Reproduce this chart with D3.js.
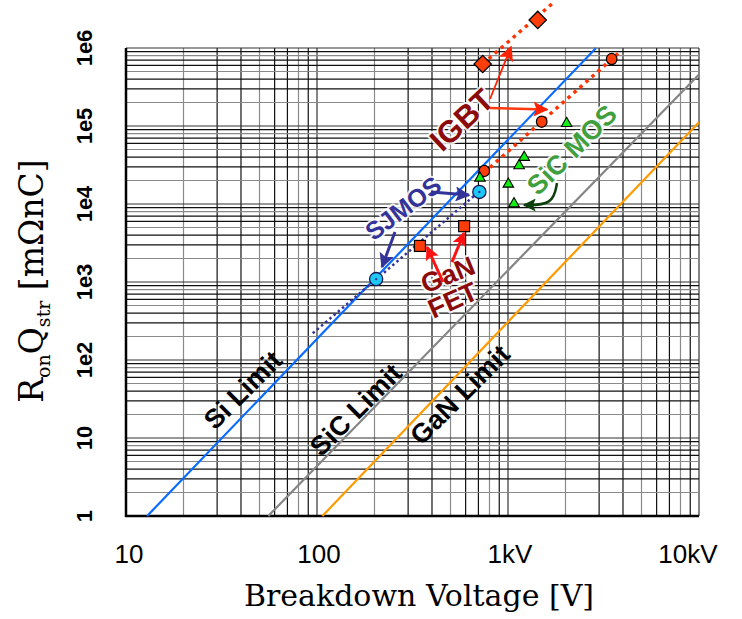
<!DOCTYPE html>
<html><head><meta charset="utf-8">
<script src="https://cdn.jsdelivr.net/npm/d3@7"></script>
<style>body{margin:0;background:#fff;} svg{display:block}</style>
</head><body><svg id="c" width="742" height="619"></svg>
<script>
// ---------- data ----------
const xTicks = [10, 100, 1000, 10000];
const xTickLabels = ["10", "100", "1kV", "10kV"];
const yTicks = [1, 10, 100, 1e3, 1e4, 1e5, 1e6];
const yTickLabels = ["1", "10", "1e2", "1e3", "1e4", "1e5", "1e6"];

const siLimit  = [[12.9, 1], [2890, 1e6]];
const sicLimit = [[55.6, 1], [10000, 4.57e5]];
const ganLimit = [[106.7, 1], [10000, 1.12e5]];

const igbtDiamonds     = [[737, 6.24e5], [1431, 2.29e6]];
const igbtDiamondTrend = [[737, 6.24e5], [1720, 3.78e6]];
const igbtCircles      = [[751, 2.65e4], [1501, 1.135e5], [3491, 7.22e5]];
const igbtCircleTrend  = [[697, 2.15e4], [3812, 8.7e5]];
const sjmos            = [[204, 1.09e3], [708, 1.43e4]];
const sjmosTrend       = [[95, 220], [720, 1.5e4]];
const ganFet           = [[346, 2.9e3], [589, 5.2e3]];
const sicMos           = [[713, 2.15e4], [1004, 1.8e4], [1075, 1.01e4], [1143, 3.1e4], [1216, 3.97e4], [2028, 1.08e5]];

// annotation arrows: [from, to]
const igbtArrows  = [[[805, 2.22e5], [1037, 1.03e6]], [[805, 1.70e5], [1600, 1.63e5]]];
const ganArrows   = [[[457, 1000], [377, 2.81e3]], [[509, 1.80e3], [588, 4.25e3]]];
const sjmosArrows = [[[256, 4.38e3], [219, 1.56e3]], [[395, 1.43e4], [625, 1.30e4]]];
const sicArrow    = [[1805, 1.86e4], [1720, 9.7e3], [1213, 9.7e3]];

// labels: [text, V, RQ]
const limitLabels = [["Si Limit", 41, 41], ["SiC Limit", 160, 22.9], ["GaN Limit", 561, 35.6]];

// ---------- chart ----------
const svg = d3.select("#c");
const x = d3.scaleLog().domain([10, 10000]).range([126, 699]);
const y = d3.scaleLog().domain([1, 1e6]).range([516, 48]);
const line = d3.line().x(d => x(d[0])).y(d => y(d[1]));

// grid
function minorVals(lo, hi) {
  const out = [];
  for (let d = lo; d < hi; d *= 10) for (let m = 1; m <= 9; m++) out.push([d * m, m]);
  out.push([hi, 1]);
  return out;
}
const gcol = m => (m === 1 ? "#333" : (m === 2 || m === 5 || m === 8) ? "#8a8a8a" : "#111");
const g = svg.append("g");
g.selectAll(".vx").data(minorVals(10, 10000)).enter().append("line")
  .attr("x1", d => x(d[0])).attr("x2", d => x(d[0])).attr("y1", y(1)).attr("y2", y(1e6))
  .attr("stroke", d => gcol(d[1])).attr("stroke-width", 1.2);
g.selectAll(".hy").data(minorVals(1, 1e6)).enter().append("line")
  .attr("y1", d => y(d[0])).attr("y2", d => y(d[0])).attr("x1", x(10)).attr("x2", x(10000))
  .attr("stroke", d => gcol(d[1])).attr("stroke-width", 1.2);

// frame
svg.append("line").attr("x1", x(10)).attr("x2", x(10)).attr("y1", y(1e6)).attr("y2", y(1) + 1)
  .attr("stroke", "#000").attr("stroke-width", 2.5);
svg.append("line").attr("x1", x(10) - 1).attr("x2", x(10000)).attr("y1", y(1)).attr("y2", y(1))
  .attr("stroke", "#000").attr("stroke-width", 2.5);

// limit lines
svg.append("path").attr("d", line(siLimit)).attr("stroke", "#0a6cff").attr("stroke-width", 2.2).attr("fill", "none");
svg.append("path").attr("d", line(sicLimit)).attr("stroke", "#858585").attr("stroke-width", 2.2).attr("fill", "none");
svg.append("path").attr("d", line(ganLimit)).attr("stroke", "#ff9a00").attr("stroke-width", 2.2).attr("fill", "none");

// trend lines
svg.append("path").attr("d", line(igbtDiamondTrend)).attr("stroke", "#ff3300").attr("stroke-width", 3.5)
  .attr("stroke-dasharray", "3.5,4.5").attr("fill", "none");
svg.append("path").attr("d", line(igbtCircleTrend)).attr("stroke", "#ff3300").attr("stroke-width", 3.5)
  .attr("stroke-dasharray", "3.5,4.5").attr("fill", "none");
svg.append("path").attr("d", line(sjmosTrend)).attr("stroke", "#333399").attr("stroke-width", 2.5)
  .attr("stroke-dasharray", "2.5,3").attr("fill", "none");

// markers
svg.selectAll(".dia").data(igbtDiamonds).enter().append("path")
  .attr("d", d3.symbol(d3.symbolSquare, 150)())
  .attr("transform", d => `translate(${x(d[0])},${y(d[1])}) rotate(45)`)
  .attr("fill", "#ff3d0a").attr("stroke", "#000").attr("stroke-width", 1.3);
svg.selectAll(".ic").data(igbtCircles).enter().append("ellipse")
  .attr("cx", d => x(d[0])).attr("cy", d => y(d[1])).attr("rx", 5.3).attr("ry", 5.6)
  .attr("fill", "#ff3d0a").attr("stroke", "#000").attr("stroke-width", 1.2);
svg.selectAll(".tri").data(sicMos).enter().append("path")
  .attr("d", d3.symbol(d3.symbolTriangle, 48)())
  .attr("transform", d => `translate(${x(d[0])},${y(d[1])})`)
  .attr("fill", "#11ee11").attr("stroke", "#000").attr("stroke-width", 1.1);
svg.selectAll(".sq").data(ganFet).enter().append("rect")
  .attr("x", d => x(d[0]) - 5.5).attr("y", d => y(d[1]) - 5.5).attr("width", 11).attr("height", 11)
  .attr("fill", "#ff3d0a").attr("stroke", "#000").attr("stroke-width", 1.2);
svg.selectAll(".sj").data(sjmos).enter().append("circle")
  .attr("cx", d => x(d[0])).attr("cy", d => y(d[1])).attr("r", 6.6)
  .attr("fill", "#1ec8f5").attr("stroke", "#1a1a55").attr("stroke-width", 1.3);
svg.selectAll(".sjd").data(sjmos).enter().append("circle")
  .attr("cx", d => x(d[0])).attr("cy", d => y(d[1])).attr("r", 1.2).attr("fill", "#333399");

// arrowheads
const defs = svg.append("defs");
function head(id, color, w, h) {
  defs.append("marker").attr("id", id).attr("viewBox", "0 0 10 10").attr("refX", 9).attr("refY", 5)
    .attr("markerUnits", "userSpaceOnUse").attr("markerWidth", w).attr("markerHeight", h).attr("orient", "auto")
    .append("path").attr("d", "M0,0 L10,5 L0,10 L2,5 z").attr("fill", color);
}
head("hIgbt", "#ff2200", 18, 15);
head("hGan", "#ff1111", 16, 14);
head("hSj", "#333399", 18, 15);
head("hSic", "#0b3f0b", 15, 13);

function arrow(pts, color, w, mk) {
  svg.append("path").attr("d", line(pts)).attr("stroke", color).attr("stroke-width", w)
    .attr("fill", "none").attr("marker-end", `url(#${mk})`);
}

// text labels
function label(t, v, r, ang, size, color, halo) {
  const el = svg.append("text").attr("transform", `translate(${x(v)},${y(r)}) rotate(${ang})`)
    .attr("text-anchor", "middle").attr("dominant-baseline", "central")
    .attr("font-family", "Liberation Sans, Arial, sans-serif").attr("font-weight", "bold")
    .attr("font-size", size).attr("fill", color).text(t);
  if (halo) el.attr("stroke", "#fff").attr("stroke-width", 4).attr("stroke-opacity", 0.85)
    .attr("paint-order", "stroke").attr("stroke-linejoin", "round");
  return el;
}
limitLabels.forEach(l => label(l[0], l[1], l[2], -45, 27, "#000", false));

label("IGBT", 574, 1.19e5, -43, 31, "#8b0a0a", true);
label("SiC MOS", 2162, 4.92e4, -45, 27, "#3f9f3f", true);
label("SJMOS", 282, 8.9e3, -37, 25, "#333399", true);
label("GaN", 485, 1.23e3, -22, 27, "#8b0a0a", true);
label("FET", 515, 580, -24, 27, "#8b0a0a", true);

igbtArrows.forEach((a, i) => arrow(a, i === 0 ? "#ff2200" : "#ff3a10", i === 0 ? 1.8 : 2.6, "hIgbt"));
ganArrows.forEach(a => arrow(a, "#ff1111", 3, "hGan"));
sjmosArrows.forEach(a => arrow(a, "#333399", 3, "hSj"));
svg.append("path").attr("d", d3.line().curve(d3.curveBasis).x(d => x(d[0])).y(d => y(d[1]))(sicArrow))
  .attr("stroke", "#0b3f0b").attr("stroke-width", 2.5).attr("fill", "none").attr("marker-end", "url(#hSic)");

// tick labels
svg.selectAll(".xt").data(xTicks).enter().append("text")
  .attr("x", (d, i) => x(d) + (i === 0 ? 3 : i === 3 ? -11 : 2)).attr("y", 563)
  .attr("text-anchor", "middle").attr("font-family", "Liberation Sans, Arial, sans-serif")
  .attr("font-size", 26).attr("fill", "#000").text((d, i) => xTickLabels[i]);
svg.selectAll(".yt").data(yTicks).enter().append("text")
  .attr("transform", d => `translate(84,${y(d)}) rotate(-90)`)
  .attr("text-anchor", "middle").attr("dominant-baseline", "central")
  .attr("font-family", "Liberation Sans, Arial, sans-serif").attr("font-weight", "bold")
  .attr("font-size", 22).attr("fill", "#000").text((d, i) => yTickLabels[i]);

// axis titles
svg.append("text").attr("x", 419).attr("y", 606).attr("text-anchor", "middle")
  .attr("font-family", "DejaVu Serif, serif").attr("font-size", 30).attr("fill", "#000")
  .text("Breakdown Voltage [V]");
const yt = svg.append("text").attr("transform", "translate(43,281) rotate(-90)").attr("text-anchor", "middle")
  .attr("font-family", "DejaVu Serif, serif").attr("font-size", 33).attr("fill", "#000");
yt.append("tspan").text("R");
yt.append("tspan").attr("font-size", 19).attr("dy", 7).text("on");
yt.append("tspan").attr("dy", -7).text("Q");
yt.append("tspan").attr("font-size", 19).attr("dy", 7).text("str");
yt.append("tspan").attr("dy", -7).text(" [mΩnC]");
</script></body></html>
